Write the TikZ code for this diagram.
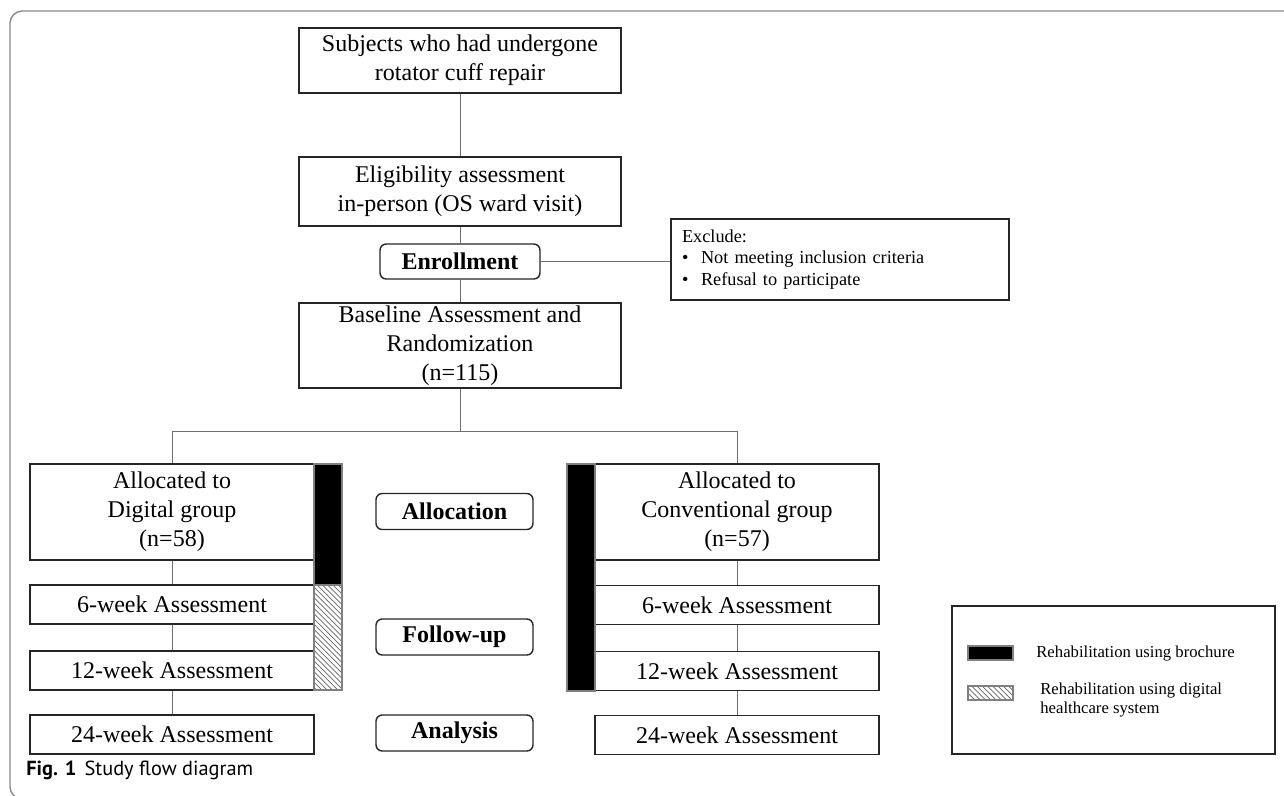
\documentclass[tikz,border=0pt]{standalone}
\usepackage{fontspec}
\setmainfont{Liberation Serif}
\setsansfont{PT Sans}
\usepackage{tikz}
\usetikzlibrary{positioning, patterns}
\definecolor{framegray}{HTML}{8A8A8A}
\definecolor{linegray}{HTML}{6E6E6E}
\tikzset{
    flowbox/.style={
        rectangle,
        draw=black!85, % 边框颜色
        line width=0.8pt, % 边框加粗
        fill=white,
        inner sep=0,
        align=center,
        minimum width=6.44cm,
        font=\fontsize{13.66}{16.4}\selectfont
    },
    groupbox/.style={
        flowbox,
        minimum width=5.68cm,
        minimum height=1.92cm
    },
    weekbox/.style={
        flowbox,
        minimum width=5.68cm,
        minimum height=0.78cm
    },
    stagebox/.style={
        flowbox,
        rounded corners=3.5pt, % 圆角
        minimum width=3.14cm,
        minimum height=0.72cm,
        font=\fontsize{13.66}{16.4}\selectfont\bfseries
    },
    exclbox/.style={
        flowbox,
        align=left,
        text width=6.32cm,
        minimum width=6.76cm,
        minimum height=1.62cm,
        inner xsep=0.22cm,
        font=\fontsize{10.4}{12.2}\selectfont
    },
    legendtext/.style={
        inner sep=0,
        align=left,
        font=\fontsize{9.5}{11.3}\selectfont
    },
    link/.style={
        draw=linegray,
        line width=0.55pt
    },
    brochure/.style={
        fill=black,
        draw=gray,
        line width=0.6pt
    },
    digitalbar/.style={
        fill=white,
        pattern=north west lines,
        pattern color=black!60,
        draw=gray,
        line width=0.6pt
    }
}
\newcommand{\itm}{\makebox[0.38cm][l]{\textbullet}}

\begin{document}
\begin{tikzpicture}[x=0.02cm, y=-0.02cm]
    \useasboundingbox (0,0) rectangle (1284,795);
    % 外框
    \draw[framegray, line width=0.8pt, rounded corners=7pt]
        (1300,11) -- (10,11) -- (10,799) -- (1300,799);

    % 入组
    \node[flowbox, minimum height=1.30cm] (subj) at (460,60.5)
        {Subjects who had undergone\\rotator cuff repair};
    \node[flowbox, minimum height=1.38cm] (elig) at (460,191.5)
        {Eligibility assessment\\in-person (OS ward visit)};
    \node[stagebox, minimum width=3.2cm, minimum height=0.7cm] (enroll) at (460,261.5) {Enrollment};
    \node[exclbox] (excl) at (840,259.5)
        {Exclude:\\\itm Not meeting inclusion criteria\\\itm Refusal to participate};
    \node[flowbox, minimum height=1.70cm] (base) at (460,345.5)
        {Baseline Assessment and\\Randomization\\(n=115)};
    \coordinate (split) at (460,431);

    % 分组
    \node[groupbox] (digital) at (172,512) {Allocated to\\Digital group\\(n=58)};
    \node[groupbox] (conv) at (737,512) {Allocated to\\Conventional group\\(n=57)};
    \node[weekbox] (dig6) at (172,604.5) {6-week Assessment};
    \node[weekbox] (dig12) at (172,670.5) {12-week Assessment};
    \node[weekbox] (dig24) at (172,734.5) {24-week Assessment};
    \node[weekbox] (con6) at (737,605) {6-week Assessment};
    \node[weekbox] (con12) at (737,671) {12-week Assessment};
    \node[weekbox] (con24) at (737,735) {24-week Assessment};
    \node[stagebox] (alloc) at (454.5,511.5) {Allocation};
    \node[stagebox] (follow) at (454.5,637) {Follow-up};
    \node[stagebox] (analysis) at (454.5,733) {Analysis};

    % 康复方式
    \draw[brochure] (314,464) rectangle (342,585);
    \draw[digitalbar] (314,585) rectangle (342,690);
    \draw[brochure] (567,464) rectangle (595,691);

    % 连线
    \draw[link] (subj) -- (elig);
    \draw[link] (elig) -- (enroll);
    \draw[link] (enroll) -- (base);
    \draw[link] (enroll.east) -- (enroll.east -| excl.west);
    \draw[link] (base) -- (split);
    \draw[link] (split) -| (digital.north);
    \draw[link] (split) -| (conv.north);
    \draw[link] (digital) -- (dig6);
    \draw[link] (dig6) -- (dig12);
    \draw[link] (dig12) -- (dig24);
    \draw[link] (conv) -- (con6);
    \draw[link] (con6) -- (con12);
    \draw[link] (con12) -- (con24);

    % 图例
    \node[flowbox, minimum width=6.46cm, minimum height=2.96cm] (legend) at (1113.5,680) {};
    \draw[brochure] (968,646) rectangle (1013,660);
    \node[legendtext, anchor=west] (legbro) at (1036,653) {Rehabilitation using brochure};
    \draw[digitalbar] (968,686) rectangle (1013,700);
    \node[legendtext, anchor=west] (legdig) at (1040,700)
        {Rehabilitation using digital\\healthcare system};

    % 图题
    \node[anchor=base west, inner sep=0, font=\sffamily\fontsize{11.6}{13}\selectfont] (caption) at (26,775)
        {\textbf{Fig. 1}\hspace{0.16cm}Study flow diagram};
\end{tikzpicture}
\end{document}
